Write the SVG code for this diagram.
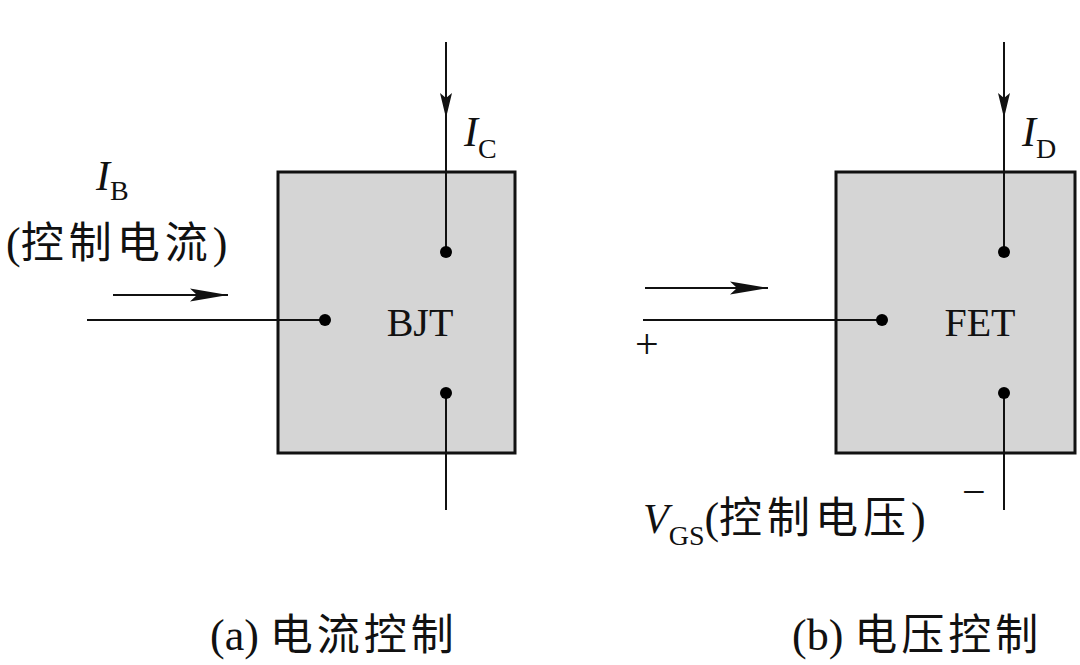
<svg xmlns="http://www.w3.org/2000/svg" width="1080" height="665" viewBox="0 0 1080 665">
<style>
.box{fill:#d5d5d5;stroke:#111;stroke-width:3}
.w{stroke:#111;stroke-width:2;fill:none}
.dot{fill:#000}
.t{font-family:"Liberation Serif","Noto Sans CJK SC",serif;fill:#111}
.it{font-style:italic}
.cjk{font-family:"Noto Sans CJK SC","Liberation Serif",sans-serif;fill:#111}
</style>
<defs>
<marker id="ah" markerUnits="userSpaceOnUse" markerWidth="40" markerHeight="14" refX="38" refY="7" orient="auto">
<path d="M0,0.5 L38,7 L0,13.5 L7,7 z" fill="#111"/>
</marker>
<marker id="av" markerUnits="userSpaceOnUse" markerWidth="26" markerHeight="14" refX="25" refY="7" orient="auto">
<path d="M0,1 L25,7 L0,13 L5,7 z" fill="#111"/>
</marker>
</defs>
<rect width="1080" height="665" fill="#fff"/>

<g id="bjt">
<rect class="box" x="278" y="172" width="237" height="281"/>
<text class="t" x="420" y="336" font-size="40" text-anchor="middle">BJT</text>
</g>

<g id="fet">
<rect class="box" x="836" y="172" width="239" height="281"/>
<text class="t" x="980" y="336" font-size="40" text-anchor="middle">FET</text>
</g>

<g id="connectors">
<line class="w" x1="446" y1="42" x2="446" y2="118" marker-end="url(#av)"/>
<line class="w" x1="446" y1="116" x2="446" y2="252"/>
<line class="w" x1="446" y1="393" x2="446" y2="510"/>
<line class="w" x1="87" y1="320" x2="325" y2="320"/>
<line class="w" x1="113" y1="295" x2="228" y2="295" marker-end="url(#ah)"/>
<circle class="dot" cx="446" cy="252" r="6"/>
<circle class="dot" cx="446" cy="393" r="6"/>
<circle class="dot" cx="325" cy="320" r="6"/>

<line class="w" x1="1004" y1="42" x2="1004" y2="118" marker-end="url(#av)"/>
<line class="w" x1="1004" y1="116" x2="1004" y2="252"/>
<line class="w" x1="1004" y1="393" x2="1004" y2="510"/>
<line class="w" x1="643" y1="320" x2="882" y2="320"/>
<line class="w" x1="645" y1="288" x2="768" y2="288" marker-end="url(#ah)"/>
<circle class="dot" cx="1004" cy="252" r="6"/>
<circle class="dot" cx="1004" cy="393" r="6"/>
<circle class="dot" cx="882" cy="320" r="6"/>
</g>

<g id="labels">
<text class="t" x="96" y="190" font-size="42"><tspan class="it">I</tspan><tspan font-size="28" dy="10">B</tspan></text>
<text class="t" x="6" y="258" font-size="44">(<tspan class="cjk" font-size="43" letter-spacing="5">控制电流</tspan>)</text>
<text class="t" x="464" y="146" font-size="42"><tspan class="it">I</tspan><tspan font-size="28" dy="12">C</tspan></text>
<text class="t" x="1022" y="146" font-size="42"><tspan class="it">I</tspan><tspan font-size="28" dy="12">D</tspan></text>
<text class="t" x="635" y="358" font-size="42">+</text>
<text class="t" x="962" y="506" font-size="42">−</text>
<text class="t" x="643" y="533" font-size="42"><tspan class="it">V</tspan><tspan font-size="28" dy="12">GS</tspan><tspan dy="-12" font-size="44">(</tspan><tspan class="cjk" font-size="43" letter-spacing="5">控制电压</tspan><tspan font-size="44">)</tspan></text>
<text class="t" x="210" y="650" font-size="44">(a) <tspan class="cjk" font-size="43" letter-spacing="4">电流控制</tspan></text>
<text class="t" x="792" y="650" font-size="44">(b) <tspan class="cjk" font-size="43" letter-spacing="4">电压控制</tspan></text>
</g>
</svg>
